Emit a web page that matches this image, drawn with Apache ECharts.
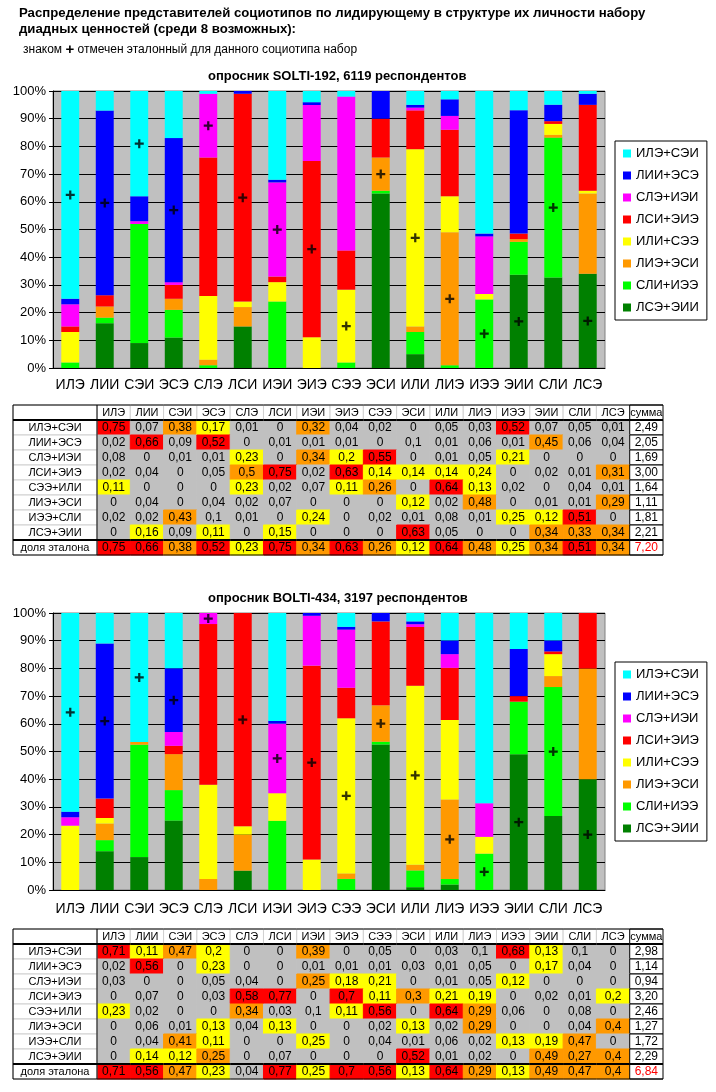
<!DOCTYPE html>
<html>
<head>
<meta charset="utf-8">
<script src="https://cdn.jsdelivr.net/npm/echarts@6/dist/echarts.min.js"></script>
<style>
  html, body { margin: 0; padding: 0; background: #fff; }
  #main { width: 716px; height: 1092px; }
</style>
</head>
<body>
<div id="main"></div>
<script>
var FONT = '"Liberation Sans", Arial, sans-serif';

// socionic types (columns)
var types = ['ИЛЭ', 'ЛИИ', 'СЭИ', 'ЭСЭ', 'СЛЭ', 'ЛСИ', 'ИЭИ', 'ЭИЭ',
  'СЭЭ', 'ЭСИ', 'ИЛИ', 'ЛИЭ', 'ИЭЭ', 'ЭИИ', 'СЛИ', 'ЛСЭ'];
// dyadic value sets, names as in the legend and as in the tables
var pairNames = ['ИЛЭ+СЭИ', 'ЛИИ+ЭСЭ', 'СЛЭ+ИЭИ', 'ЛСИ+ЭИЭ', 'ИЛИ+СЭЭ', 'ЛИЭ+ЭСИ', 'СЛИ+ИЭЭ', 'ЛСЭ+ЭИИ'];
var rowNames = ['ИЛЭ+СЭИ', 'ЛИИ+ЭСЭ', 'СЛЭ+ИЭИ', 'ЛСИ+ЭИЭ', 'СЭЭ+ИЛИ', 'ЛИЭ+ЭСИ', 'ИЭЭ+СЛИ', 'ЛСЭ+ЭИИ'];
var pairColors = ['#00ffff', '#0000ff', '#ff00ff', '#ff0000', '#ffff00', '#ff9900', '#00ff00', '#008000'];
// row of the reference ("эталонный") set for every type
var refPair = [0, 1, 0, 1, 2, 3, 2, 3, 4, 5, 4, 5, 6, 7, 6, 7];

// SOLTI-192, share of each set per type (rows = rowNames)
var solti = [
  [0.75, 0.07, 0.38, 0.17, 0.01, 0, 0.32, 0.04, 0.02, 0, 0.05, 0.03, 0.52, 0.07, 0.05, 0.01],
  [0.02, 0.66, 0.09, 0.52, 0, 0.01, 0.01, 0.01, 0, 0.1, 0.01, 0.06, 0.01, 0.45, 0.06, 0.04],
  [0.08, 0, 0.01, 0.01, 0.23, 0, 0.34, 0.2, 0.55, 0, 0.01, 0.05, 0.21, 0, 0, 0],
  [0.02, 0.04, 0, 0.05, 0.5, 0.75, 0.02, 0.63, 0.14, 0.14, 0.14, 0.24, 0, 0.02, 0.01, 0.31],
  [0.11, 0, 0, 0, 0.23, 0.02, 0.07, 0.11, 0.26, 0, 0.64, 0.13, 0.02, 0, 0.04, 0.01],
  [0, 0.04, 0, 0.04, 0.02, 0.07, 0, 0, 0, 0.12, 0.02, 0.48, 0, 0.01, 0.01, 0.29],
  [0.02, 0.02, 0.43, 0.1, 0.01, 0, 0.24, 0, 0.02, 0.01, 0.08, 0.01, 0.25, 0.12, 0.51, 0],
  [0, 0.16, 0.09, 0.11, 0, 0.15, 0, 0, 0, 0.63, 0.05, 0, 0, 0.34, 0.33, 0.34]
];
var soltiSum = [2.49, 2.05, 1.69, 3.00, 1.64, 1.11, 1.81, 2.21];
var soltiRef = [0.75, 0.66, 0.38, 0.52, 0.23, 0.75, 0.34, 0.63, 0.26, 0.12, 0.64, 0.48, 0.25, 0.34, 0.51, 0.34];
var soltiTotal = 7.20;

// BOLTI-434
var bolti = [
  [0.71, 0.11, 0.47, 0.2, 0, 0, 0.39, 0, 0.05, 0, 0.03, 0.1, 0.68, 0.13, 0.1, 0],
  [0.02, 0.56, 0, 0.23, 0, 0, 0.01, 0.01, 0.01, 0.03, 0.01, 0.05, 0, 0.17, 0.04, 0],
  [0.03, 0, 0, 0.05, 0.04, 0, 0.251, 0.18, 0.21, 0, 0.01, 0.05, 0.12, 0, 0, 0],
  [0, 0.07, 0, 0.03, 0.58, 0.77, 0, 0.7, 0.11, 0.3, 0.21, 0.19, 0, 0.02, 0.01, 0.2],
  [0.23, 0.02, 0, 0, 0.34, 0.03, 0.1, 0.11, 0.56, 0, 0.64, 0.29, 0.06, 0, 0.08, 0],
  [0, 0.06, 0.01, 0.13, 0.04, 0.13, 0, 0, 0.02, 0.13, 0.02, 0.29, 0, 0, 0.04, 0.4],
  [0, 0.04, 0.41, 0.11, 0, 0, 0.25, 0, 0.04, 0.01, 0.06, 0.02, 0.13, 0.19, 0.47, 0],
  [0, 0.14, 0.12, 0.251, 0, 0.07, 0, 0, 0, 0.52, 0.01, 0.02, 0, 0.49, 0.27, 0.4]
];
var boltiSum = [2.98, 1.14, 0.94, 3.20, 2.46, 1.27, 1.72, 2.29];
var boltiRef = [0.71, 0.56, 0.47, 0.23, 0.04, 0.77, 0.25, 0.7, 0.56, 0.13, 0.64, 0.29, 0.13, 0.49, 0.47, 0.4];
var boltiTotal = 6.84;

var LABEL_W = 84;

function colSums(mat) {
  var s = [];
  for (var c = 0; c < types.length; c++) {
    var t = 0;
    for (var r = 0; r < mat.length; r++) t += mat[r][c];
    s.push(t);
  }
  return s;
}

// stacked 100% bars, bottom set first
function barSeries(mat, stack, gi) {
  var tot = colSums(mat);
  var out = [];
  for (var i = mat.length - 1; i >= 0; i--) {
    out.push({
      name: pairNames[i],
      type: 'bar',
      stack: stack,
      xAxisIndex: gi,
      yAxisIndex: gi,
      barWidth: '52%',
      itemStyle: { color: pairColors[i] },
      emphasis: { disabled: true },
      data: mat[i].map(function (v, c) { return v / tot[c] * 100; })
    });
  }
  return out;
}

// "+" in the middle of the reference segment
function plusSeries(mat, gi) {
  var tot = colSums(mat);
  var pts = [];
  for (var c = 0; c < types.length; c++) {
    var k = refPair[c];
    var below = 0;
    for (var r = mat.length - 1; r > k; r--) below += mat[r][c];
    pts.push([c, (below + mat[k][c] / 2) / tot[c] * 100]);
  }
  return {
    type: 'scatter',
    xAxisIndex: gi,
    yAxisIndex: gi,
    symbol: 'path://M3,0H5V3H8V5H5V8H3V5H0V3H3Z',
    symbolSize: 9,
    itemStyle: { color: '#000' },
    z: 5,
    silent: true,
    data: pts
  };
}

function fmt(v) {
  if (v === 0) return '0';
  return String(Math.round(v * 100) / 100).replace('.', ',');
}

function cellColor(v) {
  if (v > 0.5) return '#ff0000';
  if (v > 0.25) return '#ff9900';
  if (v > 0.1) return '#ffff00';
  return '#c0c0c0';
}

function buildCells(mat, sums, ref, total) {
  var cells = [];
  for (var r = 0; r < 10; r++) {
    for (var c = 0; c < 17; c++) {
      var cell = { c: c, r: r, v: 0, txt: '', color: '#000', label: '' };
      if (r === 0) {
        cell.txt = c < 16 ? types[c] : 'сумма';
      } else if (r <= 8) {
        cell.label = rowNames[r - 1];
        if (c < 16) { cell.v = mat[r - 1][c]; cell.txt = fmt(cell.v); }
        else cell.txt = sums[r - 1].toFixed(2).replace('.', ',');
      } else {
        cell.label = 'доля эталона';
        if (c < 16) { cell.v = ref[c]; cell.txt = fmt(cell.v); }
        else { cell.txt = total.toFixed(2).replace('.', ','); cell.color = '#ff0000'; }
      }
      cells.push(cell);
    }
  }
  return cells;
}

function tableRenderer(cells) {
  function rect(x, y, w, h, fill, stroke) {
    return { type: 'rect', z2: 0, shape: { x: x, y: y, width: w, height: h },
      style: { fill: fill, stroke: stroke, lineWidth: 1 } };
  }
  function text(x, y, t, col, size) {
    return { type: 'text', z2: 5, style: { text: t, x: x, y: y, align: 'center',
      verticalAlign: 'middle', fill: col, font: size + 'px ' + FONT } };
  }
  function line(x1, y1, x2, y2, lw) {
    return { type: 'line', z2: 10, shape: { x1: x1, y1: y1, x2: x2, y2: y2 },
      style: { stroke: '#000', lineWidth: lw } };
  }
  return function (params, api) {
    var cell = cells[params.dataIndex];
    var c = cell.c, r = cell.r;
    var p = api.coord([c, r]);
    var s = api.size([1, 1]);
    var w = s[0], h = s[1];
    var x = p[0] - w / 2, y = p[1] - h / 2;
    var lx = params.coordSys.x - LABEL_W;
    var kids = [];
    if (r === 0 || c === 16) {
      kids.push(rect(x, y, w, h, '#fff', c === 16 ? '#000' : '#d0d0d0'));
    } else {
      var f = cellColor(cell.v);
      kids.push(rect(x, y, w, h, f, f));
    }
    kids.push(text(p[0], p[1], cell.txt, cell.color, r === 0 ? 11 : 12));
    if (c === 0) {
      kids.push(rect(lx, y, x - lx, h, '#fff', '#d0d0d0'));
      kids.push(text((lx + x) / 2, p[1], cell.label, '#000', 11));
      kids.push(line(lx, y, lx, y + h, 1));
      kids.push(line(x, y, x, y + h, 1));
    }
    var x0 = c === 0 ? lx : x;
    if (r === 0) kids.push(line(x0, y, x + w, y, 1));
    if (r === 1 || r === 9) kids.push(line(x0, y, x + w, y, 2));
    if (r === 9) kids.push(line(x0, y + h, x + w, y + h, 1));
    return { type: 'group', children: kids };
  };
}

function tableSeries(cells, gi) {
  return {
    type: 'custom',
    coordinateSystem: 'cartesian2d',
    xAxisIndex: gi,
    yAxisIndex: gi,
    clip: false,
    silent: true,
    renderItem: tableRenderer(cells),
    data: cells.map(function (d) { return [d.c, d.r]; })
  };
}

function barX(gi, margin) {
  return {
    type: 'category', gridIndex: gi, data: types,
    axisLine: { lineStyle: { color: '#000' } },
    axisTick: { length: 5, lineStyle: { color: '#000' } },
    axisLabel: { color: '#000', fontSize: 14, fontFamily: FONT, margin: margin, interval: 0 }
  };
}
function barY(gi) {
  return {
    type: 'value', gridIndex: gi, min: 0, max: 100, interval: 10,
    axisLine: { show: true, lineStyle: { color: '#000' } },
    axisTick: { show: true, length: 4, lineStyle: { color: '#000' } },
    axisLabel: { color: '#000', fontSize: 13, fontFamily: FONT, margin: 7, formatter: '{value}%' },
    splitLine: { lineStyle: { color: '#000', width: 1 } }
  };
}
var tableCols = types.concat(['сумма']);
var tableRows = [''].concat(rowNames, ['доля эталона']);
function tabX(gi) { return { type: 'category', gridIndex: gi, data: tableCols, show: false }; }
function tabY(gi) { return { type: 'category', gridIndex: gi, data: tableRows, inverse: true, show: false }; }

function legendAt(top) {
  return {
    data: pairNames, orient: 'vertical', left: 615, top: top,
    itemWidth: 8, itemHeight: 8, itemGap: 9, icon: 'rect',
    padding: [6, 8, 6, 8], borderColor: '#000', borderWidth: 1,
    selectedMode: false,
    textStyle: { color: '#000', fontSize: 13, fontFamily: FONT }
  };
}

var chart = echarts.init(document.getElementById('main'));
chart.setOption({
  animation: false,
  backgroundColor: '#fff',
  title: [
    {
      text: 'Распределение представителей социотипов по лидирующему в структуре их личности набору\nдиадных ценностей (среди 8 возможных):',
      left: 19, top: 5, padding: 0,
      textStyle: { fontSize: 13.2, fontWeight: 'bold', color: '#000', fontFamily: FONT, lineHeight: 16 }
    },
    {
      text: 'знаком {b|+} отмечен эталонный для данного социотипа набор',
      left: 23, top: 42, padding: 0,
      textStyle: { fontSize: 12, fontWeight: 'normal', color: '#000', fontFamily: FONT,
        rich: { b: { fontSize: 15, fontWeight: 'bold', color: '#000', fontFamily: FONT } } }
    },
    {
      text: 'опросник SOLTI-192, 6119 респондентов',
      left: 208, top: 70, padding: 0,
      textStyle: { fontSize: 13, fontWeight: 'bold', color: '#000', fontFamily: FONT }
    },
    {
      text: 'опросник BOLTI-434, 3197 респондентов',
      left: 208, top: 592, padding: 0,
      textStyle: { fontSize: 13, fontWeight: 'bold', color: '#000', fontFamily: FONT }
    }
  ],
  legend: [legendAt(141), legendAt(662)],
  grid: [
    { left: 53, top: 91, width: 552, height: 277, show: true, backgroundColor: '#c0c0c0', borderColor: '#808080', borderWidth: 1 },
    { left: 53, top: 613, width: 552, height: 277, show: true, backgroundColor: '#c0c0c0', borderColor: '#808080', borderWidth: 1 },
    { left: 97, top: 405, width: 566, height: 150 },
    { left: 97, top: 929, width: 566, height: 150 }
  ],
  xAxis: [barX(0, 10), barX(1, 12), tabX(2), tabX(3)],
  yAxis: [barY(0), barY(1), tabY(2), tabY(3)],
  series: [].concat(
    barSeries(solti, 'solti', 0),
    [plusSeries(solti, 0)],
    barSeries(bolti, 'bolti', 1),
    [plusSeries(bolti, 1)],
    [tableSeries(buildCells(solti, soltiSum, soltiRef, soltiTotal), 2)],
    [tableSeries(buildCells(bolti, boltiSum, boltiRef, boltiTotal), 3)]
  )
});
</script>
</body>
</html>
